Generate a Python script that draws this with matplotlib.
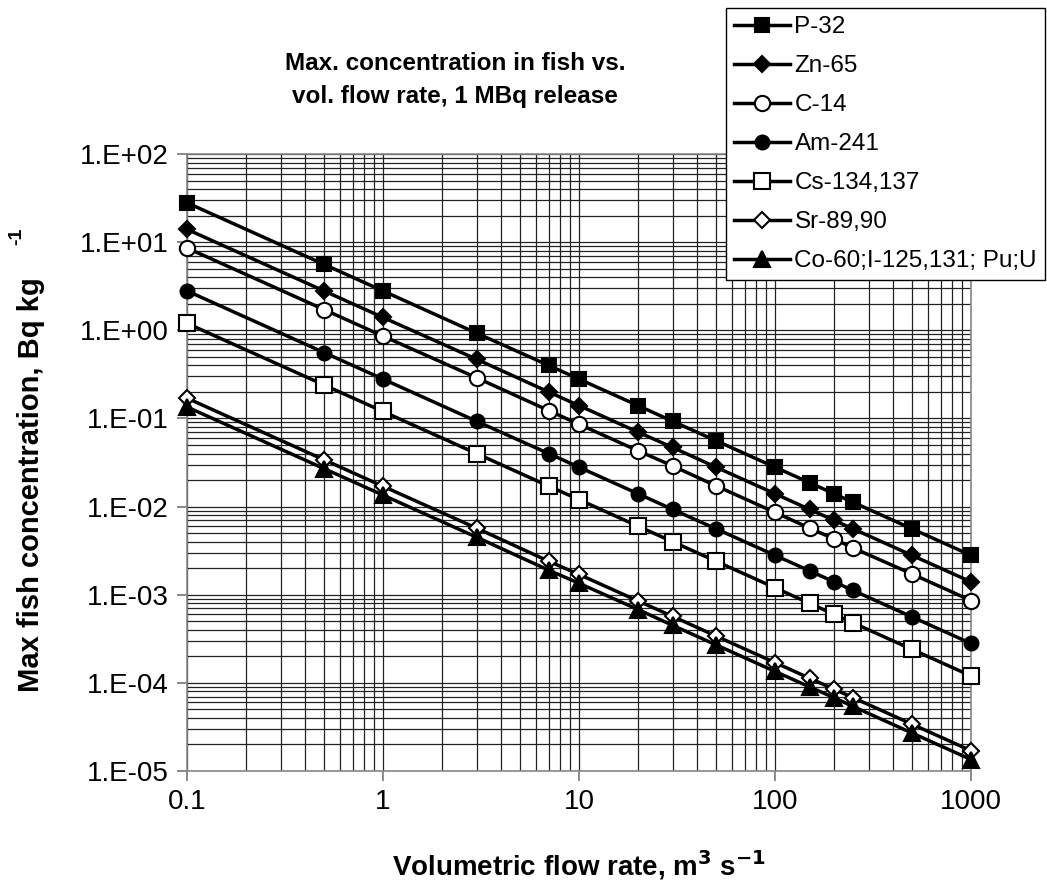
import numpy as np
import matplotlib
matplotlib.use("Agg")
import matplotlib.pyplot as plt
from matplotlib.ticker import FixedLocator, LogLocator, FuncFormatter, NullFormatter

plt.rcParams['font.family'] = ['Liberation Sans', 'DejaVu Sans']

# flow rates, m3/s
flow = [0.1, 0.5, 1, 3, 7, 10, 20, 30, 50, 100, 150, 200, 250, 500, 1000]

# max fish concentration, Bq/kg
p32 = [28, 5.6, 2.8, 0.93, 0.40, 0.28, 0.14, 0.093, 0.056, 0.028, 0.0187, 0.014, 0.0112, 0.0056, 0.0028]
zn65 = [14, 2.8, 1.4, 0.47, 0.20, 0.14, 0.070, 0.047, 0.028, 0.014, 0.0093, 0.0070, 0.0056, 0.0028, 0.0014]
c14 = [8.6, 1.72, 0.86, 0.29, 0.123, 0.086, 0.043, 0.029, 0.0172, 0.0086, 0.0057, 0.0043, 0.0034, 0.00172, 0.00086]
am241 = [2.8, 0.56, 0.28, 0.093, 0.040, 0.028, 0.014, 0.0093, 0.0056, 0.0028, 0.00187, 0.0014, 0.00112, 0.00056, 0.00028]
cs = [1.2, 0.24, 0.12, 0.040, 0.0171, 0.012, 0.0060, 0.0040, 0.0024, 0.0012, 0.0008, 0.0006, 0.00048, 0.00024, 0.00012]
sr = [0.17, 0.034, 0.017, 0.0057, 0.0024, 0.0017, 0.00085, 0.00057, 0.00034, 0.00017, 0.000113, 0.000085, 0.000068, 0.000034, 0.000017]
co = [0.135, 0.027, 0.0135, 0.0045, 0.0019, 0.00135, 0.00068, 0.00045, 0.00027, 0.000135, 0.00009, 0.000068, 0.000054, 0.000027, 0.0000135]

labels = ["P-32", "Zn-65", "C-14", "Am-241", "Cs-134,137", "Sr-89,90", "Co-60;I-125,131; Pu;U"]
series = [p32, zn65, c14, am241, cs, sr, co]
markers = ['s', 'D', 'o', 'o', 's', 'D', '^']
fills = ['black', 'black', 'white', 'black', 'white', 'white', 'black']
sizes = [10, 8, 11, 10, 11, 8, 11]

W, H = 1047, 893
fig = plt.figure(figsize=(W / 100, H / 100), dpi=100)
ax = fig.add_axes([0.1786, 0.1366, 0.7488, 0.6909])

for y, lab, m, fc, ms in zip(series, labels, markers, fills, sizes):
    ax.plot(flow, y, color='black', lw=2.5, marker=m, markersize=ms,
            markerfacecolor=fc, markeredgecolor='black', markeredgewidth=1.5,
            label=lab, clip_on=False, zorder=3)

ax.set_xscale('log')
ax.set_yscale('log')
ax.set_xlim(0.1, 1000)
ax.set_ylim(1e-5, 1e2)

ax.xaxis.set_major_locator(FixedLocator([0.1, 1, 10, 100, 1000]))
ax.xaxis.set_major_formatter(FuncFormatter(lambda v, p: '%g' % v))
ax.yaxis.set_major_locator(FixedLocator([10.0 ** k for k in range(-5, 3)]))
ax.yaxis.set_major_formatter(FuncFormatter(lambda v, p: '1.E%+03d' % int(round(np.log10(v)))))
ax.xaxis.set_minor_locator(LogLocator(base=10, subs=np.arange(2, 10)))
ax.yaxis.set_minor_locator(LogLocator(base=10, subs=np.arange(2, 10)))
ax.xaxis.set_minor_formatter(NullFormatter())
ax.yaxis.set_minor_formatter(NullFormatter())

ax.grid(True, which='both', color='#222222', lw=0.9)
ax.tick_params(which='minor', length=0)
ax.tick_params(which='major', length=7, width=1.2, color='#777777', labelsize=20, pad=6)
for s in ax.spines.values():
    s.set_color('#888888')
    s.set_linewidth(1.2)

ax.set_xlabel("Volumetric flow rate, m$^\\mathbf{3}$ s$^\\mathbf{-1}$", fontsize=20, fontweight='bold', labelpad=24)

# y label, with the unit exponent set apart as in the original
fig.text(31 / W, 1 - 485 / H, "Max fish concentration, Bq kg", rotation=90,
         ha='center', va='center', fontsize=21, fontweight='bold')
fig.text(17 / W, 1 - 236 / H, "-1", rotation=90,
         ha='center', va='center', fontsize=14, fontweight='bold')

fig.text(455 / W, 1 - 80 / H, "Max. concentration in fish vs.\nvol. flow rate, 1 MBq release",
         ha='center', va='center', fontsize=17.5, fontweight='bold', linespacing=1.5)

leg = fig.legend(loc='upper right', bbox_to_anchor=(1045 / W, 1 - 8 / H), fontsize=17.5,
                 frameon=True, fancybox=False, handlelength=2.3, handletextpad=0.17,
                 labelspacing=0.7, borderpad=0.33, borderaxespad=0)
leg.get_frame().set_edgecolor('black')
leg.get_frame().set_linewidth(1.0)
leg.get_frame().set_alpha(1)

fig.savefig("out.png", dpi=100, facecolor='white')
